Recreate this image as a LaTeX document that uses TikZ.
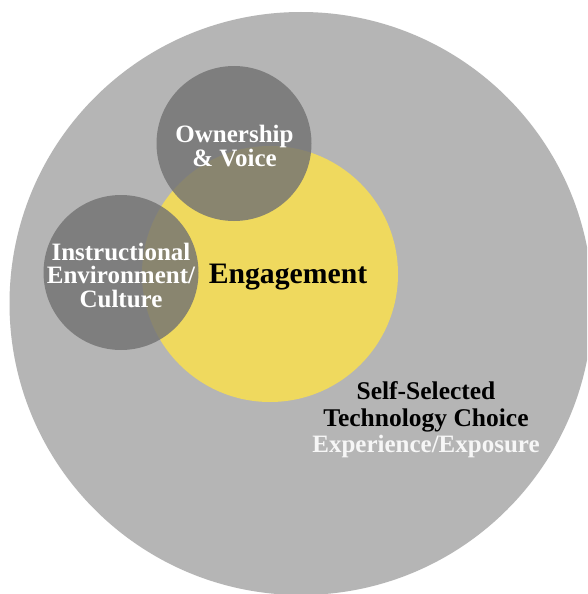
\documentclass[tikz,border=0pt]{standalone}
\usepackage{fontspec}
\setmainfont{Liberation Serif}
\definecolor{outergray}{RGB}{181,181,181}
\definecolor{yell}{RGB}{239,217,94}
\definecolor{darkc}{RGB}{115,115,115}
\definecolor{nearwhite}{RGB}{246,246,246}
\begin{document}
\begin{tikzpicture}[x=1pt,y=-1pt,
  lbl/.style={align=center,inner sep=0pt,font=\bfseries\fontsize{25}{23.5}\selectfont},
  darkcirc/.style={fill=darkc,fill opacity=0.82,draw=none}]
\useasboundingbox (0,0) rectangle (587,594);
\clip (0,0) rectangle (587,594);
\fill[white] (0,0) rectangle (587,594);
\fill[outergray] (301,303.5) circle[radius=291.5];
\fill[yell] (270,274) circle[radius=128];
\fill[darkcirc] (234,143.5) circle[radius=77.5];
\fill[darkcirc] (121,272.5) circle[radius=77.5];
\node[lbl,text=white] (own) at (234.5,146) {Ownership\\\& Voice};
\node[lbl,text=white] (instr) at (121,275) {Instructional\\Environment/\\Culture};
\node[lbl,text=black,font=\bfseries\fontsize{29.7}{30}\selectfont] (eng) at (288,277) {Engagement};
\node[lbl,text=black,font=\bfseries\fontsize{25.5}{26.5}\selectfont] (self) at (426,407) {Self-Selected\\Technology Choice};
\node[lbl,text=nearwhite,font=\bfseries\fontsize{25}{26.5}\selectfont] (exp) at (426,446) {Experience/Exposure};
\end{tikzpicture}
\end{document}
